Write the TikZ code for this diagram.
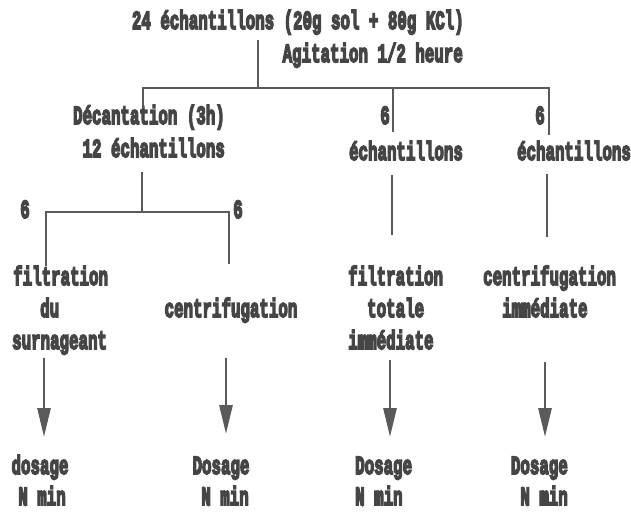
\documentclass[tikz,border=0pt]{standalone}
\usepackage{fontspec}
\usetikzlibrary{arrows.meta}
\newfontfamily\dmfont{Liberation Mono}
\newcommand\TT[1]{\special{pdf:literal direct 2 Tr 1.1 w}\scalebox{1}[1.65]{#1}\special{pdf:literal direct 0 Tr}}
\definecolor{ink}{HTML}{454545}
\definecolor{lin}{HTML}{5A5A5A}
\begin{document}
\begin{tikzpicture}[x=1pt,y=-1pt,
  txt/.style={inner sep=0pt, text=ink, font=\dmfont\bfseries\fontsize{15.8}{19}\selectfont},
  wire/.style={draw=lin, line width=2pt},
  arr/.style={draw=lin, fill=lin, line width=2.8pt, -{Triangle[length=29pt,width=13pt]}}]
\fill[white] (0,0) rectangle (631,513);
\useasboundingbox (0,0) rectangle (631,513);
% texts
\node[txt, anchor=base east] (t1) at (464,29) {\TT{24 échantillons (20g sol + 80g KCl)}};
\node[txt, anchor=base east] (t2) at (463,62) {\TT{Agitation 1/2 heure}};
\node[txt, anchor=base east] (d1) at (225,124) {\TT{Décantation (3h)}};
\node[txt, anchor=base east] (d2) at (225,157) {\TT{12 échantillons}};
\node[txt, anchor=base] (n6a) at (385,124) {\TT{6}};
\node[txt, anchor=base] (e6a) at (406,160) {\TT{échantillons}};
\node[txt, anchor=base] (n6b) at (540,124) {\TT{6}};
\node[txt, anchor=base] (e6b) at (574,160) {\TT{échantillons}};
\node[txt, anchor=base] (n6c) at (25,218) {\TT{6}};
\node[txt, anchor=base] (n6d) at (238,218) {\TT{6}};
\node[txt, anchor=base west] (f1) at (13,285) {\TT{filtration}};
\node[txt, anchor=base west] (f2) at (40,317) {\TT{du}};
\node[txt, anchor=base west] (f3) at (12,349) {\TT{surnageant}};
\node[txt, anchor=base] (c1) at (231,317) {\TT{centrifugation}};
\node[txt, anchor=base west] (g1) at (348,285) {\TT{filtration}};
\node[txt, anchor=base west] (g2) at (367,317) {\TT{totale}};
\node[txt, anchor=base west] (g3) at (348,349) {\TT{immédiate}};
\node[txt, anchor=base west] (h1) at (483,285) {\TT{centrifugation}};
\node[txt, anchor=base west] (h2) at (502,317) {\TT{immédiate}};
\node[txt, anchor=base] (k1) at (40,474) {\TT{dosage}};
\node[txt, anchor=base] (k2) at (42,505) {\TT{N min}};
\node[txt, anchor=base] (l1) at (221,474) {\TT{Dosage}};
\node[txt, anchor=base] (l2) at (225,505) {\TT{N min}};
\node[txt, anchor=base west] (m1) at (355,474) {\TT{Dosage}};
\node[txt, anchor=base west] (m2) at (355,505) {\TT{N min}};
\node[txt, anchor=base east] (p1) at (568,474) {\TT{Dosage}};
\node[txt, anchor=base east] (p2) at (568,505) {\TT{N min}};
% junction coordinates
\coordinate (a0) at (258,40);
\coordinate (a1) at (258,88);
\coordinate (hL) at (143,88);
\coordinate (hR) at (549,88);
\coordinate (hM) at (393,88);
\coordinate (dL) at (143,108);
\coordinate (dM) at (393,132);
\coordinate (dR) at (549,135);
\coordinate (b0) at (142,172);
\coordinate (b1) at (142,212);
\coordinate (bL) at (46,212);
\coordinate (bR) at (229,212);
\coordinate (bLd) at (46,266);
\coordinate (bRd) at (229,264);
\coordinate (v1) at (392,175);
\coordinate (v1d) at (392,235);
\coordinate (v2) at (547,174);
\coordinate (v2d) at (547,237);
\coordinate (r1) at (44,358);  \coordinate (r1d) at (44,437);
\coordinate (r2) at (226,358); \coordinate (r2d) at (226,434);
\coordinate (r3) at (390,360); \coordinate (r3d) at (390,437);
\coordinate (r4) at (545,362); \coordinate (r4d) at (545,437);
% connectors
\draw[wire] (a0) -- (a1);
\draw[wire] (dL) -- (hL) -- (hR) -- (dR);
\draw[wire] (hM) -- (dM);
\draw[wire] (b0) -- (b1);
\draw[wire] (bLd) -- (bL) -- (bR) -- (bRd);
\draw[wire] (v1) -- (v1d);
\draw[wire] (v2) -- (v2d);
\draw[arr] (r1) -- (r1d);
\draw[arr] (r2) -- (r2d);
\draw[arr] (r3) -- (r3d);
\draw[arr] (r4) -- (r4d);
\end{tikzpicture}
\end{document}
